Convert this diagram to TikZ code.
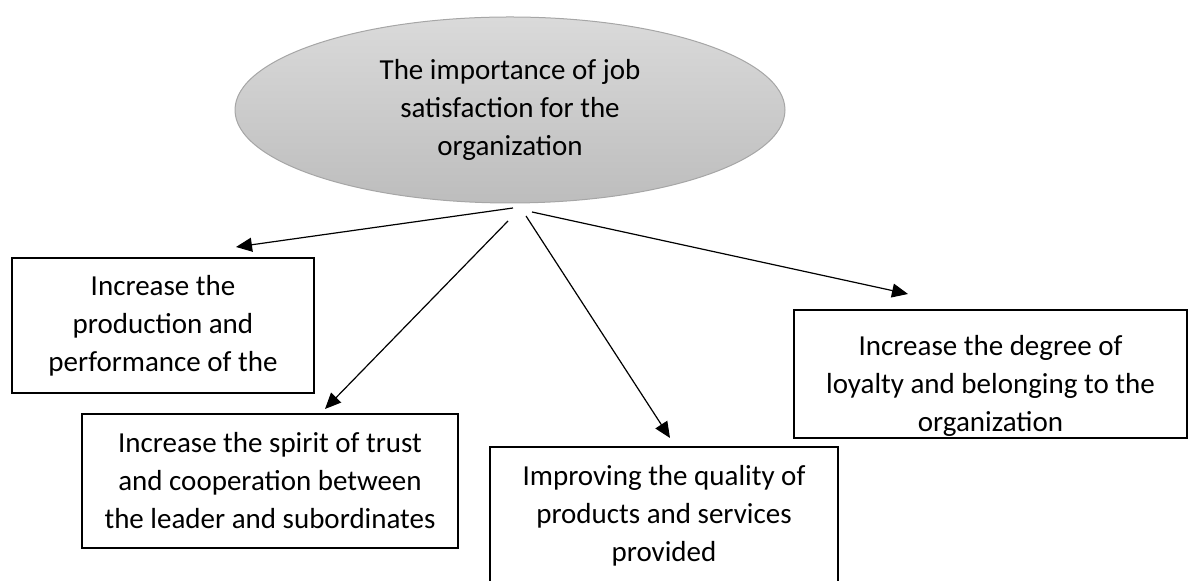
\documentclass[tikz,border=0pt]{standalone}
\usepackage{fontspec}
\setmainfont{Carlito}
\usetikzlibrary{shapes.geometric,arrows.meta,shadings}

\definecolor{ovaltop}{HTML}{DADADA}
\definecolor{ovalbottom}{HTML}{BDBDBD}
\definecolor{ovalline}{HTML}{A6A6A6}

\begin{document}
\begin{tikzpicture}[x=0.5pt,y=-0.5pt,
  every node/.style={font=\fontsize{14.5}{19}\selectfont, align=center, inner sep=0pt, outer sep=0pt},
  oval/.style={ellipse, draw=ovalline, line width=0.5pt, top color=ovaltop, bottom color=ovalbottom, minimum width=275pt, minimum height=93pt},
  box/.style={draw=black, line width=1pt, fill=white},
  arrow/.style={line width=0.6pt, -{Triangle[length=8pt,width=7pt]}}]
\clip (0,0) rectangle (1189,581);

% centre oval
\node[oval] (job) at (510,110) {The importance of job\\satisfaction for the\\organization};

% the four boxes
\node[box, minimum width=151pt, minimum height=67.5pt] (production) at (163,325.5) {Increase the\\production and\\performance of the};
\node[box, minimum width=188pt, minimum height=67pt] (trust) at (270,481) {Increase the spirit of trust\\and cooperation between\\the leader and subordinates};
\node[box, minimum width=174pt, minimum height=69pt] (quality) at (664,516) {Improving the quality of\\products and services\\provided};
\node[box, minimum width=196.5pt, minimum height=64pt] (loyalty) at (990.5,374) {};
% last line runs into the bottom edge
\begin{scope}
\clip ([yshift=0.5pt]loyalty.south west) rectangle (loyalty.north east);
\node (loyaltytext) at (990.5,386) {Increase the degree of\\loyalty and belonging to the\\organization};
\end{scope}

% arrows out of the oval
\coordinate (o1) at (513,208); \coordinate (t1) at (236,247);
\coordinate (o2) at (508,221); \coordinate (t2) at (325,409);
\coordinate (o3) at (526,216); \coordinate (t3) at (670,438);
\coordinate (o4) at (532,212); \coordinate (t4) at (908,294);
\draw[arrow] (o1) -- (t1);
\draw[arrow] (o2) -- (t2);
\draw[arrow] (o3) -- (t3);
\draw[arrow] (o4) -- (t4);
\end{tikzpicture}
\end{document}
